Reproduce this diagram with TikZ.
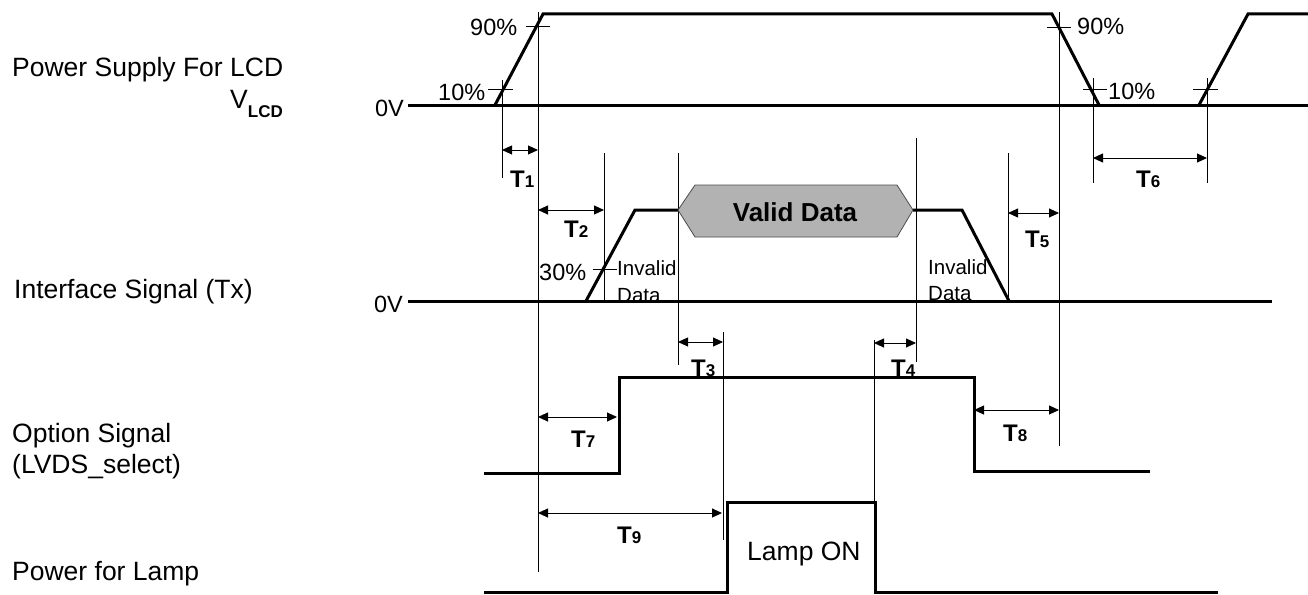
\documentclass[tikz,border=0pt]{standalone}
\usepackage{fontspec}
\setmainfont{Liberation Sans}
\usetikzlibrary{arrows.meta}
\newcommand{\tlab}[1]{{\fontsize{24}{26}\selectfont\bfseries T\fontsize{17}{18}\selectfont #1}}
\begin{document}
\begin{tikzpicture}[x=1pt,y=-1pt,
  sig/.style={line width=3pt},
  refl/.style={line width=0.9pt},
  dimarrow/.style={line width=0.9pt,{Triangle[length=10pt,width=9pt]}-{Triangle[length=10pt,width=9pt]}},
  lbl/.style={inner sep=0pt,anchor=base west,font=\fontsize{26.5}{30}\selectfont},
  pct/.style={inner sep=0pt,anchor=base west,font=\fontsize{23.5}{26}\selectfont},
  zero/.style={inner sep=0pt,anchor=base east,font=\fontsize{23.5}{26}\selectfont},
  inv/.style={inner sep=0pt,anchor=base west,font=\fontsize{20.5}{24}\selectfont},
  tl/.style={inner sep=0pt,anchor=base west},
  hexa/.style={fill=black!30,draw=black!70,line width=0.8pt}]
\useasboundingbox (0,0) rectangle (1308,594);

% ---- left labels
\node[lbl] (lPS) at (12,77) {Power Supply For LCD};
\node[lbl] (lV) at (230,108) {V\raisebox{-9pt}{\fontsize{17}{20}\selectfont\bfseries LCD}};
\node[lbl] (lIF) at (14,298) {Interface Signal (Tx)};
\node[lbl] (lOS) at (12,442) {Option Signal};
\node[lbl] (lLV) at (12,473) {(LVDS\_select)};
\node[lbl] (lPL) at (12,580) {Power for Lamp};

% ---- power supply signal
\node[zero] (z1) at (404,116) {0V};
\draw[sig] (408,105) -- (1308,105);
\draw[sig] (495,105) -- (543,14) -- (1052,14) -- (1099,105);
\draw[sig] (1199,105) -- (1248,14) -- (1308,14);

\node[pct] (p90a) at (470,36) {90\%};
\node[pct] (p10a) at (438,100) {10\%};
\node[pct] (p90b) at (1077,35) {90\%};
\node[pct] (p10b) at (1108,99) {10\%};

% ticks
\draw[refl] (488,89) -- (513,89);
\draw[refl] (526,26) -- (550,26);
\draw[refl] (1047,27) -- (1071,27);
\draw[refl] (1083,89) -- (1107,89);
\draw[refl] (1193,89) -- (1218,89);
\draw[refl] (593,269) -- (617,269);

% reference verticals
\coordinate (v1t) at (502,80);   \coordinate (v1b) at (502,178);
\coordinate (v2t) at (538,12);   \coordinate (v2b) at (538,572);
\coordinate (v3t) at (604,153);  \coordinate (v3b) at (604,303);
\coordinate (v4t) at (678,153);  \coordinate (v4b) at (678,365);
\coordinate (v5t) at (916,138);  \coordinate (v5b) at (916,362);
\coordinate (v6t) at (1008,153); \coordinate (v6b) at (1008,301);
\coordinate (v7t) at (1059,12);  \coordinate (v7b) at (1059,446);
\coordinate (v8t) at (1093,78);  \coordinate (v8b) at (1093,183);
\coordinate (v9t) at (1207,78);  \coordinate (v9b) at (1207,183);
\coordinate (v10t) at (723,332); \coordinate (v10b) at (723,540);
\coordinate (v11t) at (874,340); \coordinate (v11b) at (874,502);
\foreach \i in {1,...,11} \draw[refl] (v\i t) -- (v\i b);

% ---- interface signal
\node[zero] (z2) at (403,312) {0V};
\draw[sig] (408,301) -- (1272,301);
\draw[sig] (586,301) -- (635,210) -- (678,210);
\draw[sig] (913,210) -- (962,210) -- (1009,301);
\draw[hexa] (678,210) -- (695,185) -- (897,185) -- (913,210) -- (897,237) -- (695,237) -- cycle;
\node[inner sep=0pt,font=\fontsize{26}{30}\selectfont\bfseries] (vd) at (795,212) {Valid Data};
\node[pct] (p30) at (539,280) {30\%};
\node[inv] (inv1) at (617,275) {Invalid};
\node[inv] (dat1) at (617,302) {Data};
\node[inv] (inv2) at (928,274) {Invalid};
\node[inv] (dat2) at (928,300) {Data};

% ---- option signal
\draw[sig] (484,473) -- (619,473) -- (619,377) -- (974,377) -- (974,471) -- (1150,471);

% ---- lamp
\draw[sig] (484,592) -- (727,592) -- (727,502) -- (875,502) -- (875,592) -- (1218,592);
\node[lbl] (lamp) at (747,560) {Lamp ON};

% ---- dimension arrows
\coordinate (a1l) at (502,150);  \coordinate (a1r) at (538,150);
\coordinate (a2l) at (538,210);  \coordinate (a2r) at (604,210);
\coordinate (a3l) at (678,342);  \coordinate (a3r) at (723,342);
\coordinate (a4l) at (874,343);  \coordinate (a4r) at (916,343);
\coordinate (a5l) at (1008,213); \coordinate (a5r) at (1059,213);
\coordinate (a6l) at (1093,158); \coordinate (a6r) at (1207,158);
\coordinate (a7l) at (538,417);  \coordinate (a7r) at (617,417);
\coordinate (a8l) at (974,410);  \coordinate (a8r) at (1059,410);
\coordinate (a9l) at (538,513);  \coordinate (a9r) at (722,513);
\foreach \i in {1,...,9} \draw[dimarrow] (a\i l) -- (a\i r);

\node[tl] (T1) at (510,187) {\tlab{1}};
\node[tl] (T2) at (564,237) {\tlab{2}};
\node[tl] (T3) at (691,376) {\tlab{3}};
\node[tl] (T4) at (891,376) {\tlab{4}};
\node[tl] (T5) at (1025,247) {\tlab{5}};
\node[tl] (T6) at (1136,187) {\tlab{6}};
\node[tl] (T7) at (571,447) {\tlab{7}};
\node[tl] (T8) at (1003,441) {\tlab{8}};
\node[tl] (T9) at (617,543) {\tlab{9}};
\end{tikzpicture}
\end{document}
